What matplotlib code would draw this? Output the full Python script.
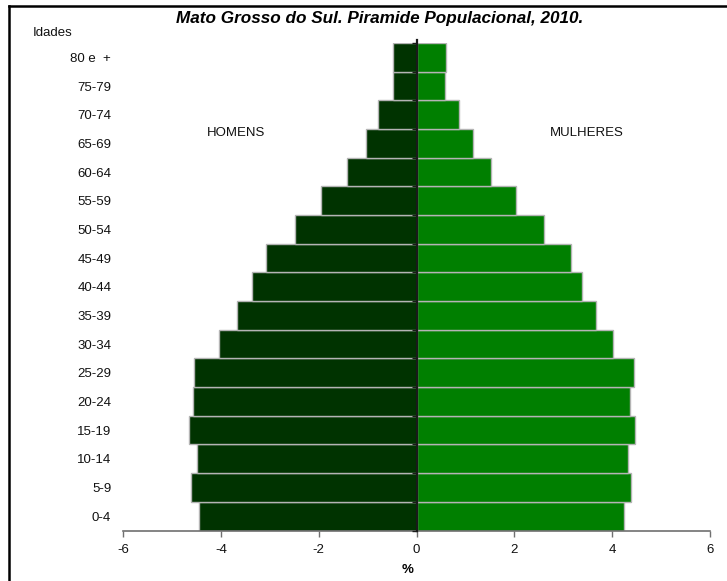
import matplotlib
matplotlib.use("Agg")
import matplotlib.pyplot as plt
import numpy as np

plt.rcParams['font.family'] = ['Liberation Sans', 'DejaVu Sans']

age_groups = ["0-4", "5-9", "10-14", "15-19", "20-24", "25-29", "30-34", "35-39",
              "40-44", "45-49", "50-54", "55-59", "60-64", "65-69", "70-74", "75-79", "80 e  +"]
homens = [-4.44, -4.62, -4.48, -4.66, -4.57, -4.55, -4.03, -3.67,
          -3.37, -3.08, -2.49, -1.96, -1.43, -1.03, -0.78, -0.48, -0.48]
mulheres = [4.25, 4.38, 4.32, 4.47, 4.36, 4.45, 4.02, 3.67,
            3.39, 3.16, 2.60, 2.04, 1.53, 1.15, 0.86, 0.59, 0.61]
xticks = [-6, -4, -2, 0, 2, 4, 6]

W, H = 727, 581
fig = plt.figure(figsize=(W / 100, H / 100), dpi=100)
left, right, top, bottom = 123, 710, 43, 530.5
ax = fig.add_axes([left / W, 1 - bottom / H, (right - left) / W, (bottom - top) / H])

y = np.arange(len(age_groups))
ax.barh(y, homens, height=1.0, color='#003300', edgecolor='#b4b4b4', linewidth=1.0)
ax.barh(y, mulheres, height=1.0, color='#007f00', edgecolor='#b4b4b4', linewidth=1.0)

ax.set_xlim(-6, 6)
ax.set_ylim(-0.5, len(age_groups) - 0.5)
ax.set_xticks(xticks)
ax.set_xticklabels([str(v) for v in xticks])
ax.set_yticks(y)
ax.set_yticklabels(age_groups)

for s in ['top', 'right', 'left']:
    ax.spines[s].set_visible(False)
ax.spines['bottom'].set_color('#707070')
ax.spines['bottom'].set_linewidth(1.2)
ax.tick_params(axis='x', direction='out', length=4, width=1, color='#707070',
               labelsize=9.5, pad=6, labelcolor='#111111')
ax.tick_params(axis='y', length=0, labelsize=9.5, pad=8.5, labelcolor='#111111')

# central axis line with tick marks at category boundaries
ax.axvline(0, ymin=0, ymax=1.006, color='#1a1a1a', linewidth=1.6, clip_on=False, zorder=5)
bounds = np.arange(len(age_groups) + 1) - 0.5
ax.hlines(bounds, -0.1, 0, color='#1a1a1a', linewidth=1.0, zorder=5, clip_on=False)

def fx(px):
    return px / W

def fy(py):
    return 1 - py / H

fig.text(fx(380), fy(18), "Mato Grosso do Sul. Piramide Populacional, 2010.",
         ha='center', va='center', fontsize=12.3, fontweight='bold', fontstyle='italic')
fig.text(fx(33), fy(33), "Idades", ha='left', va='center', fontsize=9.5, color='#111111')
fig.text(fx(236), fy(133), "HOMENS", ha='center', va='center', fontsize=9.5, color='#111111')
fig.text(fx(587), fy(133), "MULHERES", ha='center', va='center', fontsize=9.5, color='#111111')
fig.text(fx(408), fy(570), "%", ha='center', va='center', fontsize=9.5, fontweight='bold')

# partial figure border (left and top edges)
fig.add_artist(plt.Line2D([fx(9), fx(9)], [fy(6), 0], color='black', linewidth=1.8,
                          transform=fig.transFigure))
fig.add_artist(plt.Line2D([fx(9), 1], [fy(6), fy(6)], color='black', linewidth=1.8,
                          transform=fig.transFigure))

fig.savefig("out.png", dpi=100)
